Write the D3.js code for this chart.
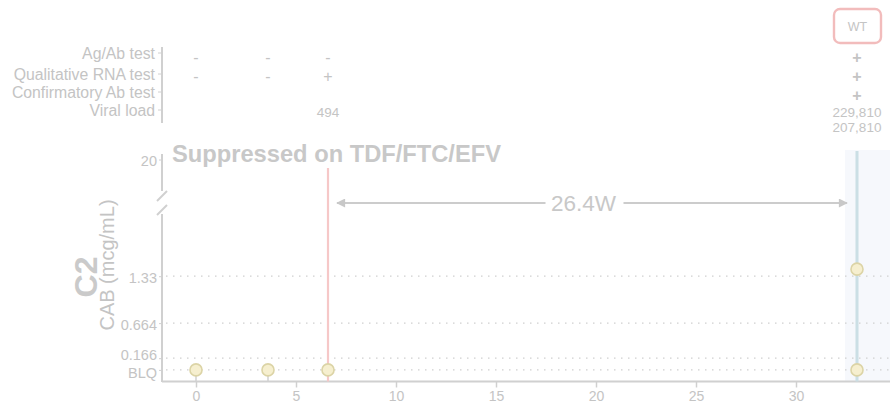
<!DOCTYPE html>
<html><head><meta charset="utf-8">
<script src="https://cdn.jsdelivr.net/npm/d3@7"></script>
<style>body{margin:0;background:#fff}svg{display:block;font-family:"Liberation Sans",Arial,sans-serif}</style>
</head><body><svg id="c" width="890" height="404"></svg>
<script>
// ---- data ----
const xTicks = [0,5,10,15,20,25,30];
const yTickVals = [0, 0.166, 0.664, 1.33];
const yTickLabels = ["BLQ","0.166","0.664","1.33"];
const topTickLabel = "20";
const sampleWeeks = [0, 3.6, 6.6, 33.05];
const cabValues = [[0],[0],[0],[0,1.43]];
const rowLabels = ["Ag/Ab test","Qualitative RNA test","Confirmatory Ab test","Viral load"];
const agAb = ["-","-","-","+"];
const qualRNA = ["-","-","+","+"];
const confAb = ["","","","+"];
const viralLoad = ["","","494","229,810\n207,810"];
const diagnosisWeek = 6.6;
const detectWeek = 33.05;
const shadeStart = 32.45;
const intervalLabel = "26.4W";
const title = "Suppressed on TDF/FTC/EFV";
const genotype = "WT";

const svg = d3.select("#c");
const txt = "#c4c4c4", axc = "#d0d0d0";
const x = d3.scaleLinear().domain([-1.7, 34.7]).range([162, 890]);
const y = d3.scaleLinear().domain([-0.165, 2.27]).range([381.5, 210]);
const yTop = 160;

// shaded region
svg.append("rect").attr("x", x(shadeStart)).attr("y", 150).attr("width", 890 - x(shadeStart)).attr("height", 381.5-150).attr("fill", "#f6f8fc");

// grid
svg.append("g").selectAll("line").data(yTickVals).join("line")
  .attr("x1", 166).attr("x2", 890).attr("y1", d=>y(d)).attr("y2", d=>y(d))
  .attr("stroke", "#d0d0d0").attr("stroke-width", 1.2).attr("stroke-dasharray", "1.5,5.5");

// x axis
const xa = svg.append("g").attr("transform", "translate(0,381.5)")
  .call(d3.axisBottom(x).tickValues(xTicks).tickSize(6).tickPadding(4));
xa.select(".domain").attr("stroke", axc).attr("stroke-width", 2).attr("d", "M162,0H890");
xa.selectAll(".tick line").attr("stroke", axc).attr("stroke-width", 1.5);
xa.selectAll("text").attr("fill", txt).attr("font-size", 14).attr("font-family", "Liberation Sans, Arial");

// y axis (lower segment)
const nudge = {"0.166": -3, "BLQ": 3};
const ya = svg.append("g").attr("transform", "translate(162,0)")
  .call(d3.axisLeft(y).tickValues(yTickVals).tickFormat((d,i)=>yTickLabels[i]).tickSize(3).tickPadding(2));
ya.select(".domain").remove();
ya.selectAll(".tick line").attr("stroke", axc);
ya.selectAll("text").attr("fill", txt).attr("font-size", 14.5).attr("font-family", "Liberation Sans, Arial")
  .attr("y", function(){ const t=d3.select(this).text(); return (nudge[t]||1.5); });
svg.append("line").attr("x1",162).attr("x2",162).attr("y1",214).attr("y2",382).attr("stroke",axc).attr("stroke-width",2);
svg.append("line").attr("x1",162).attr("x2",162).attr("y1",154).attr("y2",191).attr("stroke",axc).attr("stroke-width",2);
// break marks
[196, 210].forEach(v=>svg.append("line").attr("x1",157).attr("x2",167).attr("y1",v+5).attr("y2",v-5).attr("stroke",axc).attr("stroke-width",2));
svg.append("line").attr("x1",159).attr("x2",162).attr("y1",yTop).attr("y2",yTop).attr("stroke",axc);
svg.append("text").attr("x",157).attr("y",yTop+1).attr("dy","0.35em").attr("text-anchor","end").attr("fill",txt).attr("font-size",14.5).text(topTickLabel);

// axis titles
svg.append("text").attr("transform","translate(97,277) rotate(-90)").attr("text-anchor","middle")
  .attr("fill","#cacaca").attr("font-size",32).attr("font-weight","bold").text("C2");
svg.append("text").attr("transform","translate(114,265) rotate(-90)").attr("text-anchor","middle")
  .attr("fill",txt).attr("font-size",20).text("CAB (mcg/mL)");

// title
svg.append("text").attr("x",172).attr("y",162).attr("fill","#c8c8c8").attr("font-size",23.7).attr("font-weight","bold").text(title);

// stems
svg.append("g").selectAll("line").data(sampleWeeks.slice(0,2)).join("line")
  .attr("x1",d=>x(d)).attr("x2",d=>x(d)).attr("y1",y(0)).attr("y2",381.5).attr("stroke",axc).attr("stroke-width",1.5);
// diagnosis line
svg.append("line").attr("x1",x(diagnosisWeek)).attr("x2",x(diagnosisWeek)).attr("y1",168).attr("y2",381.5)
  .attr("stroke","#f6c8c8").attr("stroke-width",2.2);
// detect line
svg.append("line").attr("x1",x(detectWeek)).attr("x2",x(detectWeek)).attr("y1",151).attr("y2",381.5)
  .attr("stroke","#cbdfe5").attr("stroke-width",3);

// arrow
const defs = svg.append("defs");
defs.append("marker").attr("id","ah").attr("viewBox","0 0 10 10").attr("refX",9).attr("refY",5)
  .attr("markerWidth",11).attr("markerHeight",9).attr("markerUnits","userSpaceOnUse").attr("orient","auto-start-reverse")
  .append("path").attr("d","M0,0L10,5L0,10z").attr("fill","#c8c8c8");
const ay = 203;
const labX = (x(diagnosisWeek)+x(detectWeek))/2 - 9;
svg.append("line").attr("x1",x(diagnosisWeek)+9).attr("x2",labX-38).attr("y1",ay).attr("y2",ay)
  .attr("stroke","#cccccc").attr("stroke-width",2).attr("marker-start","url(#ah)");
svg.append("line").attr("x1",labX+40).attr("x2",x(detectWeek)-10).attr("y1",ay).attr("y2",ay)
  .attr("stroke","#cccccc").attr("stroke-width",2).attr("marker-end","url(#ah)");
svg.append("text").attr("x",labX).attr("y",ay).attr("dy","0.36em").attr("text-anchor","middle")
  .attr("fill","#c8c8c8").attr("font-size",22.5).text(intervalLabel);

// points
const pts = [];
sampleWeeks.forEach((w,i)=>cabValues[i].forEach(v=>pts.push({w,v})));
svg.append("g").selectAll("circle").data(pts).join("circle")
  .attr("cx",d=>x(d.w)).attr("cy",d=>y(d.v)).attr("r",6)
  .attr("fill","#f6efcf").attr("stroke","#dcd4a6").attr("stroke-width",1.6);

// top table
const labelY = [53, 74, 92, 110];
const valY = [58, 77, 95.5, 112.5];
svg.append("g").selectAll("text").data(rowLabels).join("text")
  .attr("x",155).attr("y",(d,i)=>labelY[i]).attr("dy","0.36em").attr("text-anchor","end")
  .attr("fill",txt).attr("font-size",15.8).text(d=>d);
svg.append("line").attr("x1",162).attr("x2",162).attr("y1",47).attr("y2",123).attr("stroke",axc).attr("stroke-width",2);
svg.append("g").selectAll("line").data(labelY).join("line").attr("x1",158).attr("x2",162)
  .attr("y1",d=>d).attr("y2",d=>d).attr("stroke",axc);
const rows = [agAb, qualRNA, confAb, viralLoad];
rows.forEach((r,ri)=>{
  r.forEach((val,ci)=>{
    if(!val) return;
    const lines = val.split("\n");
    lines.forEach((ln,li)=>{
      const sym = (ln==="+"||ln==="-");
      svg.append("text").attr("x",x(sampleWeeks[ci])).attr("y",valY[ri]+li*15).attr("dy",sym?"0.33em":"0.36em")
        .attr("text-anchor","middle").attr("fill",txt)
        .attr("font-size",sym?16:13.5).attr("font-weight",(ln==="+"&&ci===3)?"bold":"normal").text(ln);
    });
  });
});
// genotype box
const gx = x(detectWeek);
svg.append("rect").attr("x",gx-23).attr("y",9).attr("width",47).attr("height",34).attr("rx",6)
  .attr("fill","#fff").attr("stroke","#f2bcbc").attr("stroke-width",2.4);
svg.append("text").attr("x",gx+0.5).attr("y",27).attr("dy","0.35em").attr("text-anchor","middle")
  .attr("fill",txt).attr("font-size",12.5).text(genotype);
</script></body></html>
